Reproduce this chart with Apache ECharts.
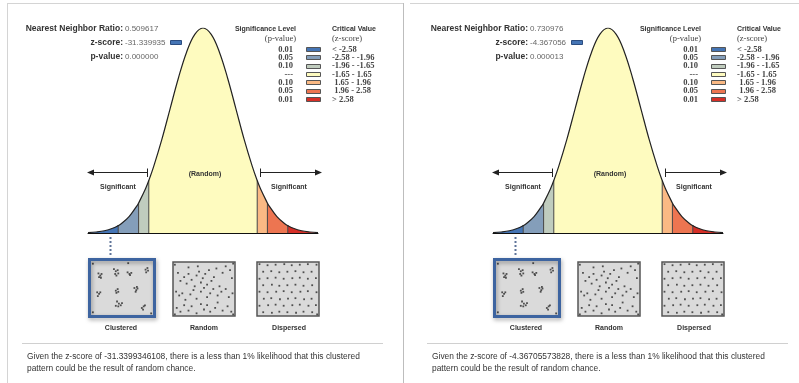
<!DOCTYPE html>
<html><head><meta charset="utf-8">
<script src="https://cdn.jsdelivr.net/npm/echarts@6/dist/echarts.min.js"></script>
<style>html,body{margin:0;padding:0;background:#fff}#c{width:799px;height:383px}</style>
</head><body><div id="c"></div>
<script>
// ---------- data ----------
const nnRatio     = ['0.509617', '0.730976'];
const zScoreText  = ['-31.339935', '-4.367056'];
const pValueText  = ['0.000000', '0.000013'];
const zScoreFull  = ['-31.3399346108', '-4.36705573828'];
const sigLevels   = ['0.01', '0.05', '0.10', '---', '0.10', '0.05', '0.01'];
const critRanges  = ['< -2.58', '-2.58 - -1.96', '-1.96 - -1.65', '-1.65 - 1.65', ' 1.65 - 1.96', ' 1.96 - 2.58', '> 2.58'];
const binColors   = ['#4575b5', '#849eba', '#c0ccbe', '#fefbbf', '#fab984', '#ed7551', '#d62f27'];
const zBreaks     = [-3.5, -2.58, -1.96, -1.65, 1.65, 1.96, 2.58, 3.5];
// curve: z position and relative height (peak = 1)
const zGrid       = [-3.5, -3.25, -3, -2.75, -2.58, -2.5, -2.25, -2, -1.96, -1.75, -1.65, -1.5, -1.25, -1, -0.75, -0.5, -0.25, 0,
                     0.25, 0.5, 0.75, 1, 1.25, 1.5, 1.65, 1.75, 1.96, 2, 2.25, 2.5, 2.58, 2.75, 3, 3.25, 3.5];
const curveHeight = [0.002, 0.005, 0.011, 0.023, 0.036, 0.044, 0.080, 0.135, 0.146, 0.216, 0.256, 0.325, 0.458, 0.607, 0.755, 0.882, 0.969, 1.0,
                     0.969, 0.882, 0.755, 0.607, 0.458, 0.325, 0.256, 0.216, 0.146, 0.135, 0.080, 0.044, 0.036, 0.023, 0.011, 0.005, 0.002];
const patternNames = ['Clustered', 'Random', 'Dispersed'];
const clusteredPts = [[12,23],[15,27],[17,24],[13,30],[16,31],[37,15],[40,19],[43,17],[39,24],[44,23],[41,27],[59,21],[62,24],[65,22],[63,26],
  [88,16],[91,13],[92,18],[89,21],[10,58],[13,61],[11,65],[15,58],[40,55],[43,52],[44,57],[41,59],[70,50],[73,54],[75,51],[72,57],[74,48],
  [42,75],[45,79],[48,82],[44,84],[50,78],[40,83],[82,87],[85,84],[84,90],[87,82],[3,5],[3,95],[97,97],[60,4]];
const randomPts = [[8,20],[12,35],[18,28],[22,40],[25,22],[30,33],[35,45],[38,25],[42,18],[45,38],[48,30],[52,22],[55,42],[58,15],[62,35],
  [66,28],[70,12],[75,45],[80,20],[85,8],[92,15],[95,30],[5,55],[10,62],[15,58],[20,70],[28,60],[33,52],[38,68],[45,55],[50,48],[55,65],
  [60,58],[65,50],[72,62],[78,55],[85,50],[90,65],[96,58],[6,85],[12,92],[18,80],[25,90],[30,82],[38,95],[45,78],[50,88],[55,80],[60,92],
  [68,85],[72,75],[80,90],[88,82],[94,92],[40,8],[25,10],[3,5],[97,97],[3,97],[97,3]];
const dispersedPts = [[4,4],[17,6],[30,5],[44,4],[56,6],[69,5],[82,4],[96,5],
  [10,18],[23,17],[36,19],[49,18],[62,17],[75,19],[88,18],
  [4,31],[17,30],[30,29],[43,31],[57,30],[69,29],[82,31],[95,30],
  [10,43],[24,42],[36,44],[49,43],[62,42],[75,44],[89,43],
  [4,55],[17,56],[31,55],[43,54],[56,56],[70,55],[82,54],[96,56],
  [11,68],[23,67],[37,69],[50,68],[62,67],[76,69],[88,68],
  [4,81],[18,80],[30,79],[43,81],[57,80],[69,79],[83,81],[95,80],
  [10,93],[24,94],[36,92],[49,93],[63,94],[75,92],[89,93],[97,97]];
const patternPts = [clusteredPts, randomPts, dispersedPts];

// ---------- helpers ----------
const SANS = '"Liberation Sans", Arial, sans-serif';
const SERIF = '"Liberation Serif", "Times New Roman", serif';
const mctx = document.createElement('canvas').getContext('2d');
function textW(str, font) { mctx.font = font; return mctx.measureText(str).width; }
function txt(x, y, text, font, fill, align) {
  return { type: 'text', x: x, y: y, z: 20, silent: true,
    style: { text: text, font: font, fill: fill, align: align || 'left', verticalAlign: 'middle',
             textAlign: align || 'left', textVerticalAlign: 'middle' } };
}
function ln(x1, y1, x2, y2, stroke, w, dash) {
  return { type: 'line', z: 20, silent: true, shape: { x1, y1, x2, y2 },
    style: { stroke: stroke, lineWidth: w || 1, lineDash: dash || null } };
}
function rect(x, y, w, h, fill, stroke, lw, extra) {
  return Object.assign({ type: 'rect', z: 20, silent: true, shape: { x, y, width: w, height: h },
    style: { fill: fill, stroke: stroke, lineWidth: lw || 1 } }, extra || {});
}

const grids = [], xAxes = [], yAxes = [], series = [], graphics = [];
const fullCurve = zGrid.map((z, k) => [z, curveHeight[k]]);

function buildPanel(p, dx) {
  // main curve grid
  const gi = grids.length;
  grids.push({ left: 88 + dx, top: 28, width: 230, height: 205 });
  xAxes.push({ gridIndex: gi, type: 'value', min: -3.5, max: 3.5,
    axisLine: { show: true, lineStyle: { color: '#111', width: 1 } },
    axisTick: { show: true, inside: true, length: 3, customValues: [0], lineStyle: { color: '#111' } },
    axisLabel: { show: false }, splitLine: { show: false } });
  yAxes.push({ gridIndex: gi, type: 'value', min: 0, max: 1, show: false, splitLine: { show: false } });
  for (let i = 0; i < 7; i++) {
    const seg = fullCurve.filter(d => d[0] >= zBreaks[i] - 1e-9 && d[0] <= zBreaks[i + 1] + 1e-9);
    series.push({ type: 'line', xAxisIndex: gi, yAxisIndex: gi, data: seg, smooth: 0.4, symbol: 'none', silent: true,
      lineStyle: { width: 0 }, areaStyle: { color: binColors[i], opacity: 1 }, z: 2 });
  }
  series.push({ type: 'line', xAxisIndex: gi, yAxisIndex: gi, data: fullCurve, smooth: 0.4, symbol: 'none', silent: true,
    lineStyle: { color: '#222', width: 1.2 }, z: 4 });
  const bounds = zBreaks.slice(1, -1).map(z => [z, curveHeight[zGrid.indexOf(z)]]);
  series.push({ type: 'custom', xAxisIndex: gi, yAxisIndex: gi, data: bounds, silent: true, z: 3,
    renderItem: (params, api) => {
      const a = api.coord([api.value(0), 0]), b = api.coord([api.value(0), api.value(1)]);
      return { type: 'line', shape: { x1: a[0], y1: a[1], x2: b[0], y2: b[1] }, style: { stroke: '#444', lineWidth: 1 } };
    } });

  // thumbnails
  const boxes = [[91, 261], [173, 262], [257, 262]];
  for (let t = 0; t < 3; t++) {
    const ti = grids.length;
    grids.push({ left: boxes[t][0] + dx, top: boxes[t][1], width: 62, height: 54, show: true,
      backgroundColor: '#dadada', borderColor: t === 0 ? '#dadada' : '#555', borderWidth: t === 0 ? 0 : 1.5 });
    xAxes.push({ gridIndex: ti, type: 'value', min: 0, max: 100, show: false });
    yAxes.push({ gridIndex: ti, type: 'value', min: 0, max: 100, inverse: true, show: false });
    series.push({ type: 'scatter', xAxisIndex: ti, yAxisIndex: ti, data: patternPts[t], symbol: 'rect', symbolSize: 1.8,
      itemStyle: { color: '#2a2a2a' }, silent: true, z: 5 });
  }

  // header stats
  const lblFont = 'bold 8.5px ' + SANS, valFont = '8px ' + SANS;
  graphics.push(txt(123 + dx, 29, 'Nearest Neighbor Ratio:', lblFont, '#333', 'right'));
  graphics.push(txt(125 + dx, 29, nnRatio[p], valFont, '#666'));
  graphics.push(txt(123 + dx, 43, 'z-score:', lblFont, '#333', 'right'));
  graphics.push(txt(125 + dx, 43, zScoreText[p], valFont, '#666'));
  const sw = 125 + dx + textW(zScoreText[p], valFont) + 5;
  graphics.push(rect(Math.round(sw) + 0.5, 40.5, 11, 4, binColors[0], '#2b4d80', 1));
  graphics.push(txt(123 + dx, 57, 'p-value:', lblFont, '#333', 'right'));
  graphics.push(txt(125 + dx, 57, pValueText[p], valFont, '#666'));

  // legend
  const hFont = 'bold 7px ' + SANS, sFont = 'bold 8.5px ' + SERIF, pFont = '8.5px ' + SERIF;
  graphics.push(txt(296 + dx, 29, 'Significance Level', hFont, '#333', 'right'));
  graphics.push(txt(296 + dx, 39, '(p-value)', pFont, '#444', 'right'));
  graphics.push(txt(332 + dx, 29, 'Critical Value', hFont, '#333'));
  graphics.push(txt(332 + dx, 39, '(z-score)', pFont, '#444'));
  for (let i = 0; i < 7; i++) {
    const y = 49.5 + i * 8.35;
    graphics.push(txt(293 + dx, y, sigLevels[i], sFont, '#444', 'right'));
    graphics.push(rect(306.5 + dx, Math.round(y - 2.5) + 0.5, 14, 4, binColors[i], '#555', 1));
    graphics.push(txt(332 + dx, y, critRanges[i], sFont, '#444'));
  }

  // arrows & labels
  graphics.push(ln(89 + dx, 172.5, 147 + dx, 172.5, '#222', 1.2));
  graphics.push({ type: 'polygon', z: 20, silent: true, shape: { points: [[87 + dx, 172.5], [94 + dx, 169.5], [94 + dx, 175.5]] }, style: { fill: '#222' } });
  graphics.push(ln(147.5 + dx, 168.5, 147.5 + dx, 177, '#222', 1));
  graphics.push(ln(260.5 + dx, 168.5, 260.5 + dx, 177, '#222', 1));
  graphics.push(ln(261 + dx, 172.5, 318 + dx, 172.5, '#222', 1.2));
  graphics.push({ type: 'polygon', z: 20, silent: true, shape: { points: [[322 + dx, 172.5], [315 + dx, 169.5], [315 + dx, 175.5]] }, style: { fill: '#222' } });
  graphics.push(txt(118 + dx, 187, 'Significant', 'bold 7px ' + SANS, '#333', 'center'));
  graphics.push(txt(289 + dx, 187, 'Significant', 'bold 7px ' + SANS, '#333', 'center'));
  graphics.push(txt(205 + dx, 174, '(Random)', 'bold 7px ' + SANS, '#333', 'center'));

  // dotted connector & clustered frame
  graphics.push(ln(110.5 + dx, 237, 110.5 + dx, 257, '#5f7499', 2, [2, 2]));
  graphics.push(rect(89.5 + dx, 259.5, 65, 57, 'none', '#3d64a0', 3,
    { style: { fill: 'none', stroke: '#3d64a0', lineWidth: 3, shadowBlur: 4, shadowColor: 'rgba(0,0,0,0.35)', shadowOffsetX: 1, shadowOffsetY: 2 } }));
  const labX = [121, 204, 289];
  for (let t = 0; t < 3; t++) graphics.push(txt(labX[t] + dx, 328, patternNames[t], 'bold 7px ' + SANS, '#333', 'center'));

  // rule & sentence
  graphics.push(ln(22 + dx, 343.5, 383 + dx, 343.5, '#d0d0d0', 1));
  graphics.push(txt(27 + dx, 357, 'Given the z-score of ' + zScoreFull[p] + ', there is a less than 1% likelihood that this clustered', '8.4px ' + SANS, '#333'));
  graphics.push(txt(27 + dx, 369, 'pattern could be the result of random chance.', '8.4px ' + SANS, '#333'));
}

buildPanel(0, 0);
buildPanel(1, 405);

// panel frames
graphics.push(ln(7.5, 3, 7.5, 383, '#d4d4d4', 1));
graphics.push(ln(7, 3.5, 403, 3.5, '#d4d4d4', 1));
graphics.push(ln(403.5, 3, 403.5, 383, '#bdbdbd', 1));
graphics.push(ln(410, 3.5, 799, 3.5, '#d4d4d4', 1));

const chart = echarts.init(document.getElementById('c'), null, { renderer: 'canvas' });
chart.setOption({
  animation: false,
  backgroundColor: '#fff',
  grid: grids, xAxis: xAxes, yAxis: yAxes, series: series,
  graphic: { elements: graphics }
});
</script></body></html>
